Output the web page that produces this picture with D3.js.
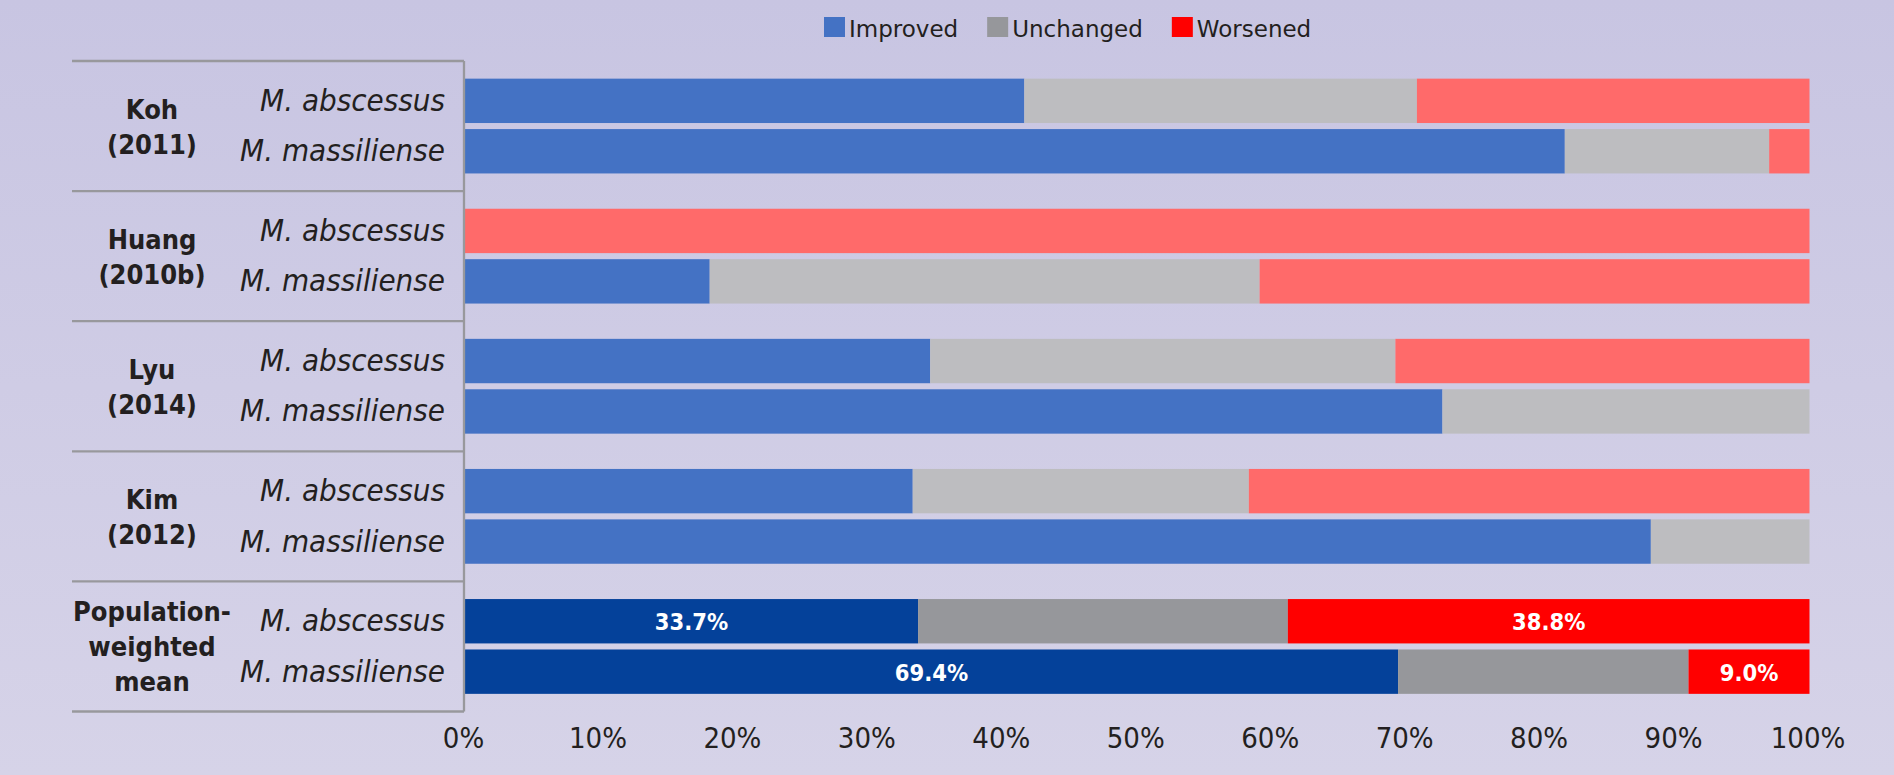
<!DOCTYPE html>
<html>
<head>
<meta charset="utf-8">
<script src="https://cdn.jsdelivr.net/npm/d3@7"></script>
<style>
  html, body { margin: 0; padding: 0; }
  body { width: 1894px; height: 775px; overflow: hidden; }
  svg { display: block; }
  .cond { font-family: "DejaVu Sans Condensed", "DejaVu Sans", sans-serif; font-stretch: condensed; }
</style>
</head>
<body>
<svg id="chart" width="1894" height="775"></svg>
<script>
// Studies (multi-line labels), species within each study, outcome categories
const studies = [
  ["Koh", "(2011)"],
  ["Huang", "(2010b)"],
  ["Lyu", "(2014)"],
  ["Kim", "(2012)"],
  ["Population-", "weighted", "mean"]
];
const species = ["M. abscessus", "M. massiliense"];
const outcomes = ["Improved", "Unchanged", "Worsened"];

// Percent of patients per row (study x species, in order)
const improved  = [41.6, 81.8,   0, 18.2, 34.6, 72.7, 33.3, 88.2, 33.7, 69.4];
const unchanged = [29.2, 15.2,   0, 40.9, 34.6, 27.3, 25.0, 11.8, 27.5, 21.6];
const worsened  = [29.2,  3.0, 100, 40.9, 30.8,  0.0, 41.7,  0.0, 38.8,  9.0];

const xTicks = [0, 10, 20, 30, 40, 50, 60, 70, 80, 90, 100];

const studyColors  = ["#4472c4", "#bdbdc0", "#ff6a6a"];
const pooledColors = ["#04419a", "#96979b", "#ff0000"];
const legendColors = ["#4472c4", "#96979b", "#ff0000"];

const W = 1894, H = 775;
const svg = d3.select("#chart");

// background wash
const defs = svg.append("defs");
const grad = defs.append("linearGradient").attr("id", "bg").attr("x1", 0).attr("y1", 0).attr("x2", 0).attr("y2", 1);
grad.append("stop").attr("offset", "0%").attr("stop-color", "#c8c5e2");
grad.append("stop").attr("offset", "100%").attr("stop-color", "#d6d3e8");
svg.append("rect").attr("width", W).attr("height", H).attr("fill", "url(#bg)");

// scales
const x = d3.scaleLinear().domain([0, 100]).range([465, 1809.5]);
const yGroup = d3.scaleBand().domain(d3.range(studies.length)).range([61, 711.5]);
const yInner = d3.scaleBand().domain(d3.range(species.length)).range([0, yGroup.bandwidth()])
  .paddingInner(0.12).paddingOuter(0.35);

// rows
const rows = [];
studies.forEach((s, gi) => {
  species.forEach((sp, si) => {
    const idx = gi * species.length + si;
    rows.push({
      gi, si, species: sp, pooled: gi === studies.length - 1,
      values: [improved[idx], unchanged[idx], worsened[idx]]
    });
  });
});

const barG = svg.append("g");
rows.forEach(r => {
  const y0 = yGroup(r.gi) + yInner(r.si);
  let acc = 0;
  const colors = r.pooled ? pooledColors : studyColors;
  r.values.forEach((v, k) => {
    if (v > 0) {
      barG.append("rect")
        .attr("x", x(acc))
        .attr("y", y0)
        .attr("width", x(acc + v) - x(acc))
        .attr("height", yInner.bandwidth())
        .attr("fill", colors[k]);
      // value labels on pooled improved / worsened segments
      if (r.pooled && k !== 1) {
        barG.append("text")
          .attr("class", "cond")
          .attr("x", x(acc + v / 2))
          .attr("y", y0 + yInner.bandwidth() / 2 + 9)
          .attr("text-anchor", "middle")
          .attr("font-size", 23.5)
          .attr("font-weight", "bold")
          .attr("fill", "#ffffff")
          .text(v.toFixed(1) + "%");
      }
    }
    acc += v;
  });
});

// table grid on the left
const grid = svg.append("g").attr("stroke", "#98989c").attr("stroke-width", 2.3);
const tableLeft = 72, tableRight = 464;
yGroup.domain().concat([studies.length]).forEach(i => {
  const yy = i < studies.length ? yGroup(i) : yGroup.range()[1];
  grid.append("line").attr("x1", tableLeft).attr("x2", tableRight).attr("y1", yy).attr("y2", yy);
});
grid.append("line").attr("x1", tableRight).attr("x2", tableRight)
  .attr("y1", yGroup.range()[0]).attr("y2", yGroup.range()[1]);

// study labels
const studyCx = 152, lineH = 35;
studies.forEach((lines, gi) => {
  const cy = yGroup(gi) + yGroup.bandwidth() / 2;
  const t = svg.append("text")
    .attr("class", "cond")
    .attr("text-anchor", "middle")
    .attr("font-size", 27)
    .attr("font-weight", "bold")
    .attr("fill", "#231f20");
  lines.forEach((ln, li) => {
    t.append("tspan")
      .attr("x", studyCx)
      .attr("y", cy + 10 + (li - (lines.length - 1) / 2) * lineH)
      .text(ln);
  });
});

// species labels
rows.forEach(r => {
  svg.append("text")
    .attr("class", "cond")
    .attr("x", 445)
    .attr("y", yGroup(r.gi) + yInner(r.si) + yInner.bandwidth() / 2 + 10)
    .attr("text-anchor", "end")
    .attr("font-size", 31)
    .attr("font-style", "italic")
    .attr("fill", "#231f20")
    .text(r.species);
});

// x axis
const axis = d3.axisBottom(x).tickValues(xTicks).tickFormat(d => d + "%").tickSize(0).tickPadding(0);
const axG = svg.append("g").attr("transform", "translate(-2,748)").call(axis);
axG.select(".domain").remove();
axG.selectAll("text")
  .attr("class", "cond")
  .attr("y", 0).attr("dy", 0)
  .attr("font-size", 29)
  .attr("fill", "#231f20")
  .attr("font-family", null);

// legend
const legend = svg.append("g");
let lx = 824;
outcomes.forEach((name, k) => {
  legend.append("rect").attr("x", lx).attr("y", 17).attr("width", 21).attr("height", 20).attr("fill", legendColors[k]);
  const t = legend.append("text")
    .attr("x", lx + 25).attr("y", 37)
    .attr("font-family", "DejaVu Sans, sans-serif")
    .attr("font-size", 23)
    .attr("fill", "#231f20")
    .text(name);
  lx += 25 + t.node().getComputedTextLength() + 29;
});
</script>
</body>
</html>
